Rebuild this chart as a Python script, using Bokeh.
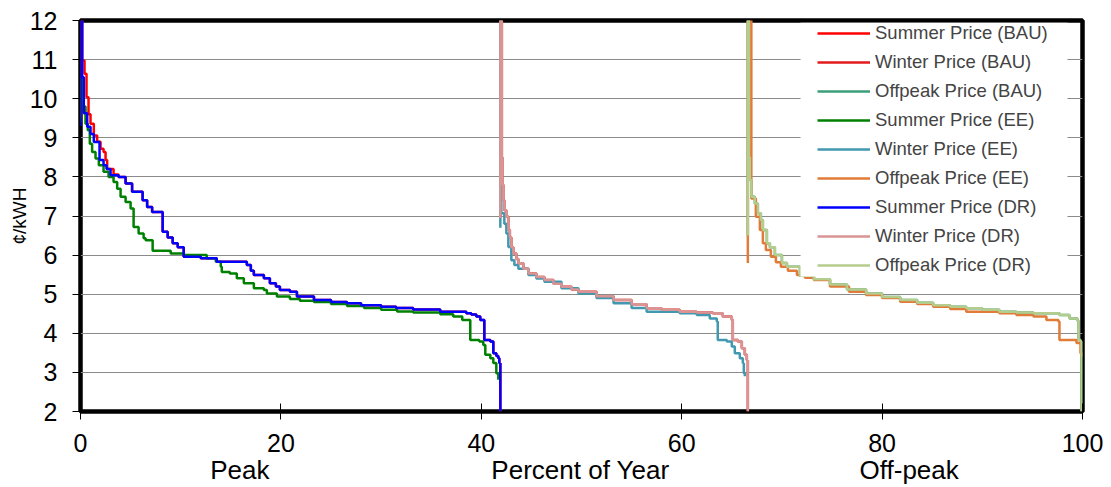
from bokeh.plotting import figure
from bokeh.models import (Range1d, LinearAxis, FixedTicker, Legend, LegendItem,
                          BoxAnnotation)
from bokeh.embed import file_html
from bokeh.resources import INLINE

# ---------------- data (percent of year, cents/kWh) ----------------
x_ticks = [0, 20, 40, 60, 80, 100]
y_ticks = [2, 3, 4, 5, 6, 7, 8, 9, 10, 11, 12]
period_pos = [15.9, 49.9, 82.7]
period_names = ["Peak", "Percent of Year", "Off-peak"]
y_title = "¢/kWH"

summer_dr_x = [0, 0, 0.17, 0.33, 0.67, 1.0, 1.33, 1.9, 2.3, 2.6, 3.0, 3.8, 4.5, 5.15, 6.2, 6.65,
               7.15, 8.2, 8.7, 9.2, 9.7, 10.3, 12.0, 13.6, 16.6, 17.0, 17.3, 18.3, 18.9, 19.5,
               19.9, 20.9, 21.6, 23.3, 25.0, 26.6, 28.0, 30.0, 31.5, 33.2, 35.9, 38.5, 39.0,
               39.5, 39.9, 40.3, 40.9, 41.2, 41.5, 41.7, 41.8, 41.9]
summer_dr_y = [9.3, 12.0, 10.55, 9.63, 9.28, 9.1, 8.89, 8.43, 8.3, 8.2, 8.04, 8.0, 7.83, 7.62, 7.4,
               7.23, 7.1, 6.6, 6.45, 6.3, 6.2, 5.96, 5.92, 5.83, 5.75, 5.6, 5.49, 5.41, 5.28, 5.2,
               5.11, 5.06, 4.94, 4.85, 4.8, 4.77, 4.72, 4.68, 4.65, 4.61, 4.55, 4.51, 4.48,
               4.43, 4.34, 3.83, 3.79, 3.49, 3.42, 3.36, 3.24, 2.0]

summer_bau_x = [0, 0, 0.17, 0.4, 0.6, 0.8, 1.0, 1.33, 1.66, 2.0, 2.3, 2.5, 2.66, 3.3, 3.8, 4.5, 5.15,
                6.2, 6.65, 7.15, 8.2, 8.7, 9.2, 9.7, 10.3, 12.0, 13.6, 16.6, 17.0, 17.3, 18.3, 18.9,
                19.5, 19.9, 20.9, 21.6, 23.3, 25.0, 26.6, 28.0, 30.0, 31.5, 33.2, 35.9, 38.5, 39.0,
                39.5, 39.9, 40.3, 40.9, 41.2, 41.5, 41.7, 41.8, 41.9]
summer_bau_y = [9.5, 12.0, 10.98, 10.64, 10.04, 9.6, 9.36, 9.06, 8.9, 8.72, 8.64, 8.43, 8.2, 8.06, 8.0,
                7.83, 7.62, 7.4, 7.23, 7.1, 6.6, 6.45, 6.3, 6.2, 5.96, 5.92, 5.83, 5.75, 5.6, 5.49,
                5.41, 5.28, 5.2, 5.11, 5.06, 4.94, 4.85, 4.8, 4.77, 4.72, 4.68, 4.65, 4.61, 4.55,
                4.51, 4.48, 4.43, 4.34, 3.83, 3.79, 3.49, 3.42, 3.36, 3.24, 2.0]

summer_ee_x = [0, 0, 0.3, 0.5, 0.73, 0.93, 1.16, 1.5, 1.83, 2.3, 2.8, 3.3, 3.66, 4.0, 4.5, 5.0, 5.3,
               5.8, 6.3, 6.5, 7.2, 9.0, 10.3, 12.6, 13.5, 14.0, 14.1, 14.9, 15.6, 16.3, 17.3, 18.3,
               18.6, 19.6, 20.9, 21.9, 23.3, 25.0, 26.6, 28.3, 30.0, 31.6, 33.2, 35.9, 37.2, 38.1,
               38.9, 39.8, 40.2, 40.4, 40.9, 41.2, 41.5, 41.7]
summer_ee_y = [9.4, 10.5, 9.8, 9.36, 9.19, 8.85, 8.64, 8.47, 8.3, 8.13, 8.0, 7.87, 7.7, 7.49, 7.36,
               7.19, 6.72, 6.55, 6.43, 6.38, 6.11, 6.04, 6.0, 5.92, 5.83, 5.7, 5.57, 5.53, 5.41,
               5.28, 5.15, 5.11, 5.02, 4.94, 4.88, 4.83, 4.8, 4.75, 4.7, 4.65, 4.6, 4.56, 4.53,
               4.49, 4.43, 4.34, 3.83, 3.79, 3.7, 3.45, 3.36, 3.24, 2.98, 2.81]

winter_dr_x = [41.9, 41.9, 42.05, 42.1, 42.2, 42.3, 42.5, 42.7, 42.85, 43.0, 43.2, 43.5, 43.7, 44.2,
               44.7, 45.5, 46.3, 47.2, 48.0, 49.0, 49.7, 51.5, 53.2, 55.0, 56.5, 58.0, 59.8, 61.5,
               63.1, 64.1, 65.0, 65.1, 65.6, 66.0, 66.3, 66.5, 66.6]
winter_dr_y = [6.95, 12.0, 8.5, 7.8, 7.4, 7.15, 6.98, 6.64, 6.45, 6.2, 6.04, 5.9, 5.79, 5.65, 5.53,
               5.44, 5.36, 5.27, 5.19, 5.12, 5.06, 4.95, 4.85, 4.74, 4.64, 4.6, 4.55, 4.53, 4.51,
               4.43, 4.34, 3.83, 3.79, 3.62, 3.45, 3.32, 2.0]

winter_bau_x = [41.9, 41.9, 42.05, 42.1, 42.2, 42.3, 42.5, 42.7, 42.85, 43.0, 43.2, 43.5, 43.7, 44.2,
                44.7, 45.5, 46.3, 47.2, 48.0, 49.0, 49.7, 51.5, 53.2, 55.0, 56.5, 58.0, 59.8, 61.5,
                63.1, 64.1, 65.0, 65.1, 65.6, 66.0, 66.3, 66.5, 66.6]
winter_bau_y = [6.95, 12.0, 8.5, 7.8, 7.4, 7.15, 6.98, 6.64, 6.45, 6.2, 6.04, 5.9, 5.79, 5.65, 5.53,
                5.44, 5.36, 5.27, 5.19, 5.12, 5.06, 4.95, 4.85, 4.74, 4.64, 4.6, 4.55, 4.53, 4.51,
                4.43, 4.34, 3.83, 3.79, 3.62, 3.45, 3.32, 2.0]

winter_ee_x = [41.9, 41.9, 42.0, 42.3, 42.5, 42.7, 43.0, 43.3, 43.7, 44.7, 45.5, 46.3, 48.0, 49.7,
               51.5, 53.2, 55.0, 56.5, 59.8, 61.5, 62.8, 63.5, 63.6, 64.5, 65.0, 65.3, 65.8, 66.1,
               66.2, 66.3]
winter_ee_y = [6.7, 12.0, 7.07, 6.8, 6.55, 6.21, 5.87, 5.75, 5.65, 5.49, 5.4, 5.32, 5.15, 5.02,
               4.9, 4.77, 4.65, 4.55, 4.51, 4.47, 4.38, 4.3, 3.83, 3.79, 3.66, 3.49, 3.36, 3.24,
               2.98, 2.9]

offpeak_dr_x = [66.6, 66.6, 66.7, 66.8, 66.95, 67.3, 67.6, 67.9, 68.1, 68.5, 68.8, 69.3, 70.0, 70.5,
                71.8, 73.2, 74.8, 76.5, 78.4, 80.0, 81.8, 83.5, 85.1, 86.8, 88.4, 90.0, 91.7, 93.4,
                95.1, 97.7, 98.7, 99.5, 99.6, 99.8, 99.9]
offpeak_dr_y = [6.5, 12.0, 8.5, 7.92, 7.49, 7.32, 7.07, 6.9, 6.64, 6.3, 6.2, 6.0, 5.8, 5.7, 5.47,
                5.38, 5.25, 5.12, 5.02, 4.93, 4.85, 4.78, 4.72, 4.68, 4.64, 4.6, 4.55, 4.53, 4.51,
                4.47, 4.38, 4.32, 3.83, 3.79, 2.0]

offpeak_bau_x = [66.6, 66.6, 66.7, 66.8, 66.95, 67.3, 67.6, 67.9, 68.1, 68.5, 68.8, 69.3, 70.0, 70.5,
                 71.8, 73.2, 74.8, 76.5, 78.4, 80.0, 81.8, 83.5, 85.1, 86.8, 88.4, 90.0, 91.7, 93.4,
                 95.1, 97.7, 98.7, 99.5, 99.6, 99.8, 99.9]
offpeak_bau_y = [6.5, 12.0, 8.5, 7.92, 7.49, 7.32, 7.07, 6.9, 6.64, 6.3, 6.2, 6.0, 5.8, 5.7, 5.47,
                 5.38, 5.25, 5.12, 5.02, 4.93, 4.85, 4.78, 4.72, 4.68, 4.64, 4.6, 4.55, 4.53, 4.51,
                 4.47, 4.38, 4.32, 3.83, 3.79, 2.0]

offpeak_ee_x = [66.6, 66.6, 66.95, 67.4, 67.8, 68.1, 68.4, 68.9, 69.4, 69.9, 70.6, 71.5, 72.3, 73.2,
                74.8, 76.7, 78.4, 80.0, 81.8, 83.5, 85.1, 86.8, 88.4, 91.7, 93.4, 95.1, 96.4, 97.6,
                97.7, 99.4, 99.8, 99.9]
offpeak_ee_y = [5.8, 12.0, 7.45, 6.98, 6.64, 6.3, 6.13, 5.96, 5.82, 5.7, 5.6, 5.49, 5.42, 5.36, 5.2,
                5.06, 4.98, 4.9, 4.81, 4.75, 4.68, 4.62, 4.55, 4.51, 4.47, 4.43, 4.34, 4.3, 3.83,
                3.75, 3.49, 3.4]

series_names = ["Summer Price (BAU)", "Winter Price (BAU)", "Offpeak Price (BAU)",
                "Summer Price (EE)", "Winter Price (EE)", "Offpeak Price (EE)",
                "Summer Price (DR)", "Winter Price (DR)", "Offpeak Price (DR)"]
series_colors = ["#FF0000", "#E31A1C", "#3C9E7A",
                 "#008000", "#4198AF", "#E07B39",
                 "#0000FF", "#D99594", "#B4CC8C"]
series_x = [summer_bau_x, winter_bau_x, offpeak_bau_x,
            summer_ee_x, winter_ee_x, offpeak_ee_x,
            summer_dr_x, winter_dr_x, offpeak_dr_x]
series_y = [summer_bau_y, winter_bau_y, offpeak_bau_y,
            summer_ee_y, winter_ee_y, offpeak_ee_y,
            summer_dr_y, winter_dr_y, offpeak_dr_y]

FONT = "Liberation Sans"

p = figure(width=1104, height=487, x_range=Range1d(0, 100), y_range=Range1d(2, 12),
           output_backend="svg", toolbar_location=None,
           min_border_left=80, min_border_top=20, min_border_right=22, min_border_bottom=76)
p.background_fill_color = "white"
p.border_fill_color = "white"
p.outline_line_color = "black"
p.outline_line_width = 4.5

# axes
p.xaxis.ticker = FixedTicker(ticks=x_ticks)
p.yaxis.ticker = FixedTicker(ticks=y_ticks)
for ax in (p.xaxis[0], p.yaxis[0]):
    ax.axis_line_color = None
    ax.major_tick_line_color = "black"
    ax.major_tick_line_width = 1
    ax.minor_tick_line_color = None
    ax.major_label_text_font = FONT
    ax.major_label_text_font_size = "25px"
    ax.major_label_text_color = "black"
p.xaxis.major_tick_in = 8
p.xaxis.major_tick_out = 8
p.xaxis.major_label_standoff = 14
p.yaxis.major_tick_in = 0
p.yaxis.major_tick_out = 8
p.yaxis.major_label_standoff = 15
p.yaxis.axis_label = y_title
p.yaxis.axis_label_text_font = FONT
p.yaxis.axis_label_text_font_size = "19px"
p.yaxis.axis_label_text_font_style = "normal"
p.yaxis.axis_label_text_color = "black"
p.yaxis.axis_label_standoff = -3

ax2 = LinearAxis(ticker=FixedTicker(ticks=period_pos),
                 major_label_overrides=dict(zip(period_pos, period_names)),
                 axis_line_color=None, major_tick_line_color=None, minor_tick_line_color=None,
                 major_tick_in=0, major_tick_out=0, major_label_standoff=0,
                 major_label_text_font=FONT, major_label_text_font_size="26px",
                 major_label_text_color="black")
p.add_layout(ax2, "below")

p.xgrid.grid_line_color = None
p.ygrid.ticker = FixedTicker(ticks=y_ticks)
p.ygrid.grid_line_color = "#8a8a8a"
p.ygrid.grid_line_width = 1

renderers = []
for xs, ys, c in zip(series_x, series_y, series_colors):
    r = p.step(xs, ys, mode="after", line_color=c, line_width=2.5)
    renderers.append(r)

# white legend area
p.add_layout(BoxAnnotation(left=71.86, right=98.5, top=11.94, bottom=5.45,
                           fill_color="white", fill_alpha=1.0, line_color=None))

legend = Legend(items=[LegendItem(label=n, renderers=[r]) for n, r in zip(series_names, renderers)],
                location=(733, 131), margin=0, padding=4, spacing=7,
                glyph_width=53, glyph_height=22, label_height=22, label_standoff=5,
                label_text_font=FONT, label_text_font_size="18.5px",
                background_fill_alpha=0, border_line_alpha=0)
p.add_layout(legend)

open("out.html", "w").write(file_html(p, INLINE))
